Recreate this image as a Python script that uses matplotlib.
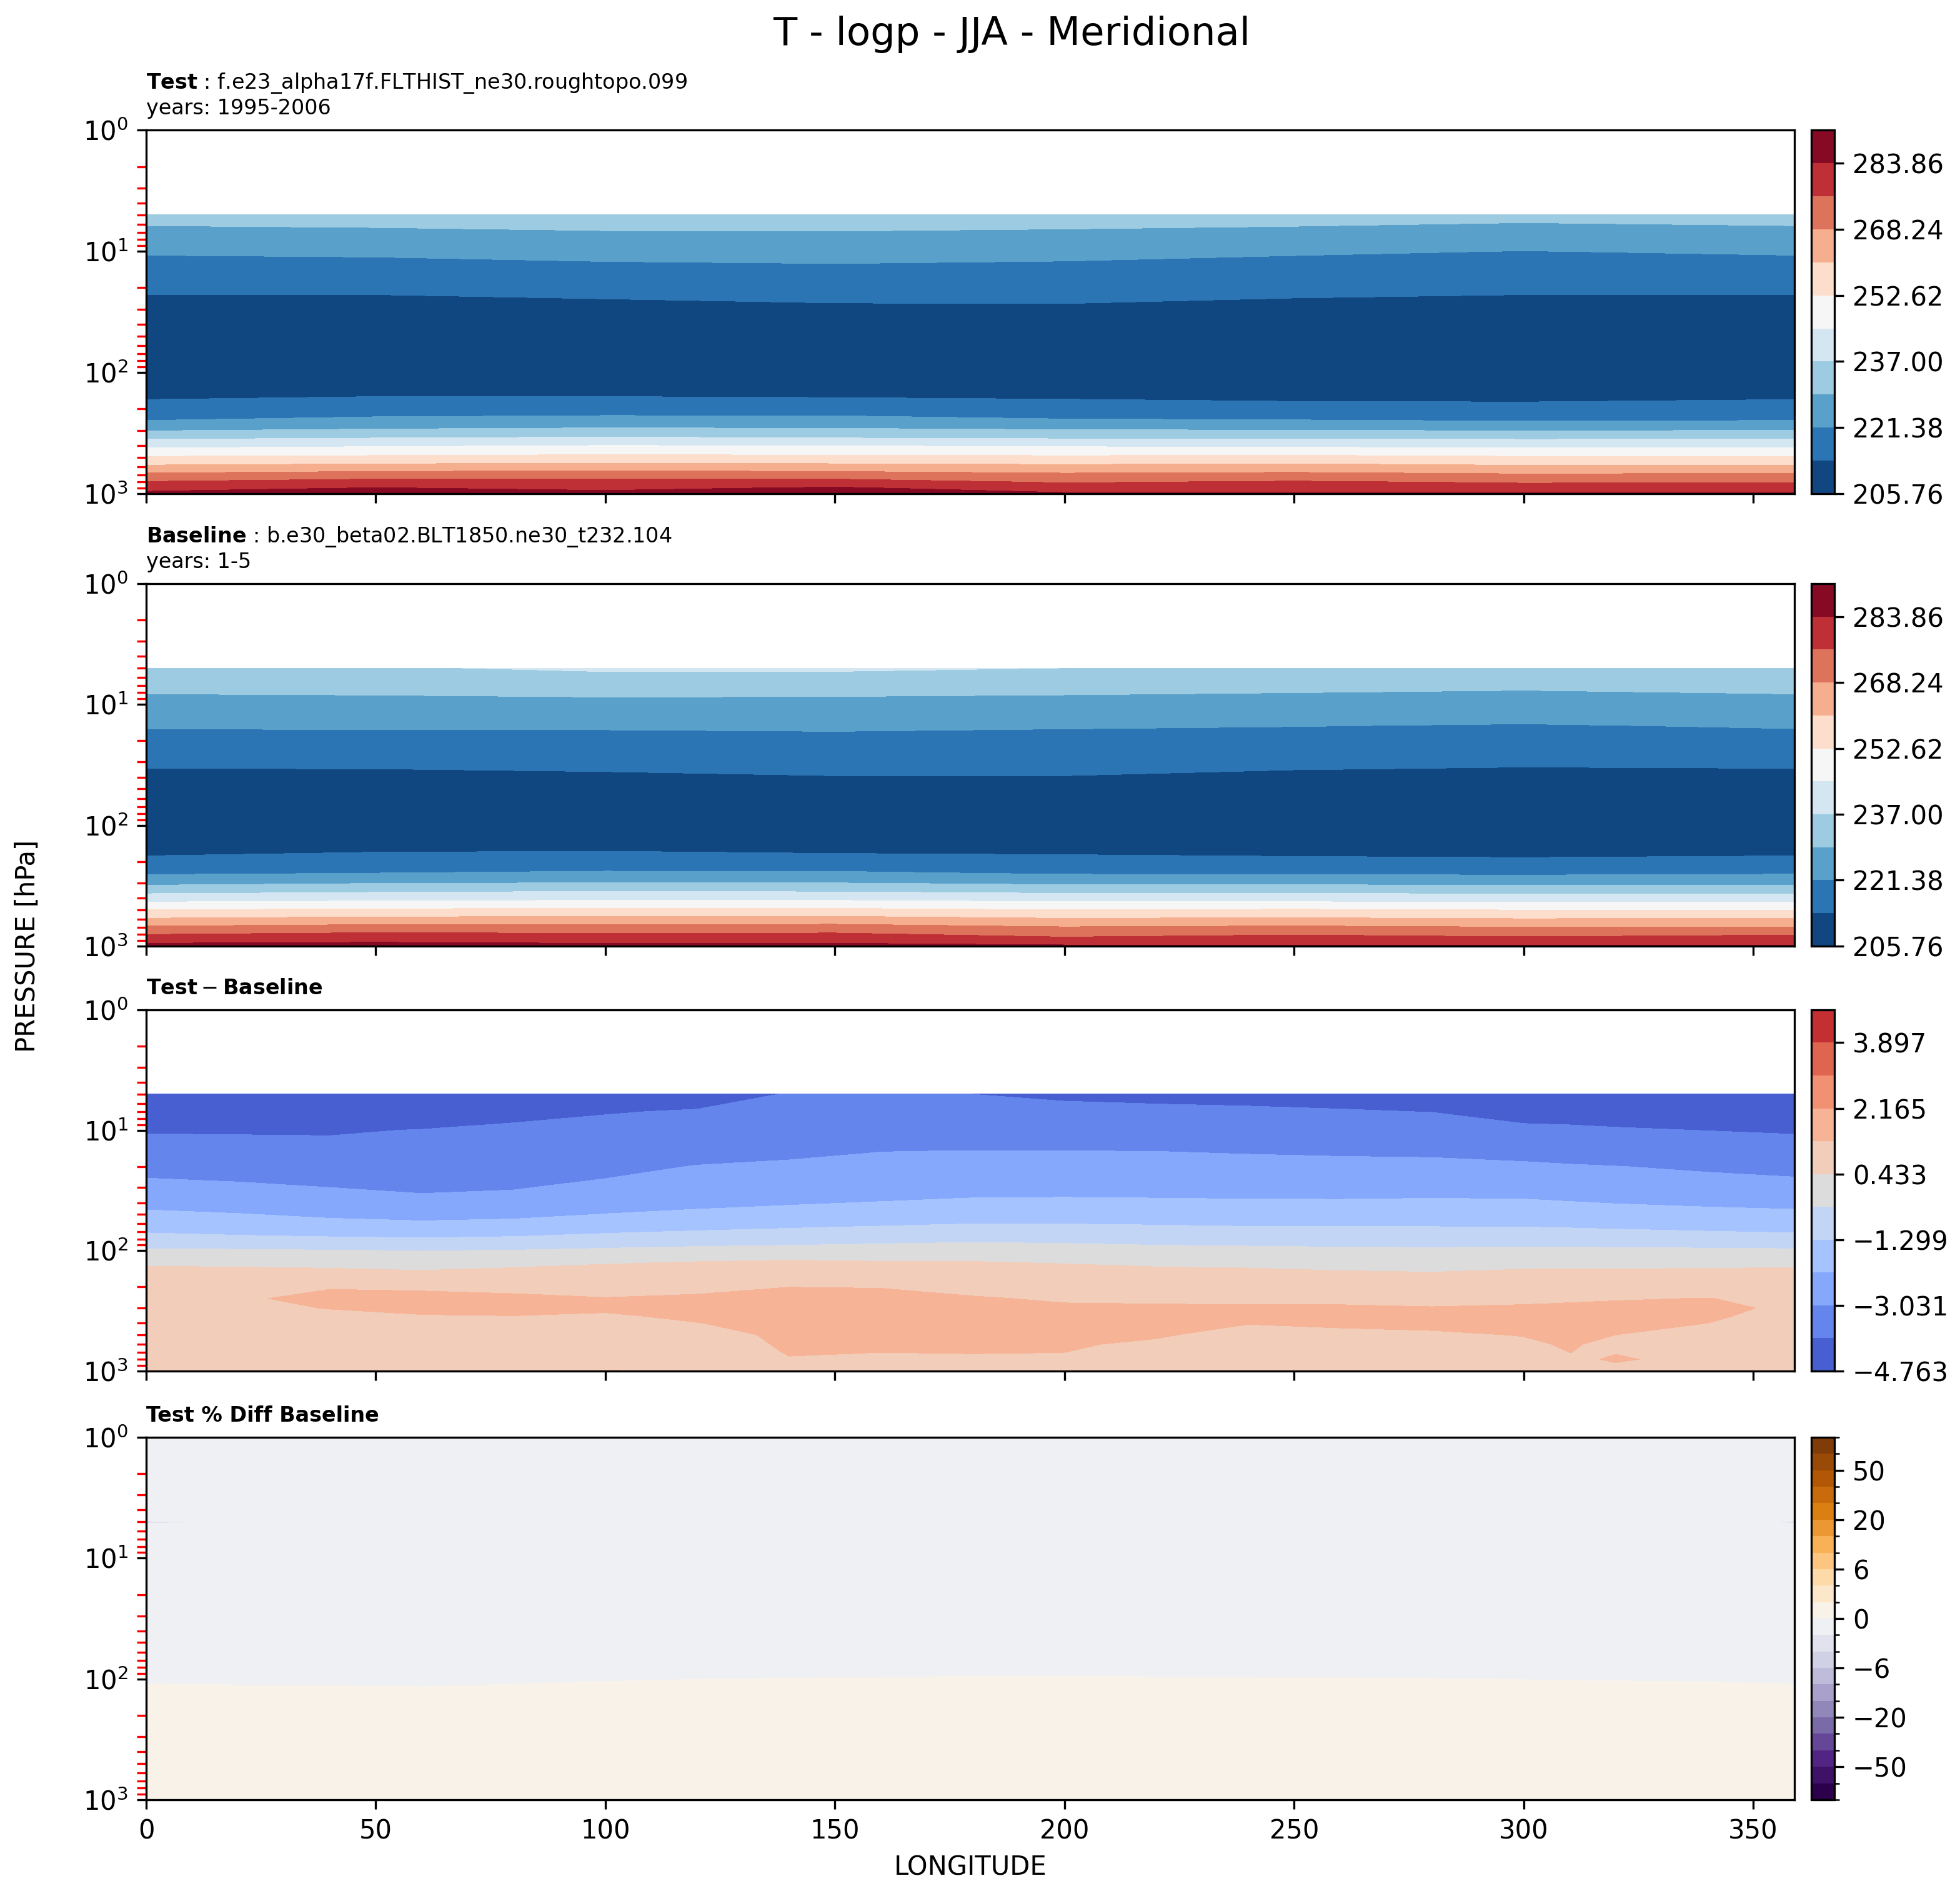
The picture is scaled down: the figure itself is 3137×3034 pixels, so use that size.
import numpy as np
import matplotlib
matplotlib.use("Agg")
import matplotlib.pyplot as plt
from matplotlib.colors import BoundaryNorm

# ---------------- data ----------------
plev = [5, 7, 10, 15, 20, 30, 50, 70, 100, 150, 200, 250, 300, 350, 400,
        500, 600, 700, 800, 900, 1000]

lon_T = [0, 50, 100, 150, 200, 250, 300, 359]

# Test temperature [K], rows = plev, columns = lon_T
T_test = [
    [231.5, 231.55, 232.03, 231.78, 231.64, 231.37, 230.75, 231.5],
    [227.49, 228.10, 228.80, 228.93, 228.48, 227.80, 226.90, 227.49],
    [221.93, 222.2, 222.9, 223.0, 222.6, 221.9, 221.30, 221.93],
    [218.44, 218.69, 219.35, 219.92, 219.62, 218.87, 218.28, 218.44],
    [215.32, 215.41, 216.37, 217.21, 217.10, 216.02, 215.26, 215.32],
    [209.1, 208.85, 210.41, 211.78, 212.06, 210.32, 209.22, 209.1],
    [207.5, 207.3, 207.5, 208.0, 208.2, 207.5, 207.2, 207.5],
    [206.8, 206.6, 206.8, 207.0, 207.0, 206.8, 206.5, 206.8],
    [207.5, 207.3, 207.5, 207.3, 207.3, 207.0, 207.0, 207.5],
    [211.95, 212.76, 212.69, 212.31, 211.97, 211.14, 211.03, 211.95],
    [216.71, 217.83, 218.19, 218.05, 216.97, 216.42, 216.11, 216.71],
    [221.52, 223.40, 224.21, 224.11, 222.28, 221.83, 221.18, 221.53],
    [228.76, 230.20, 231.10, 230.67, 229.75, 229.33, 228.73, 229.2],
    [236.25, 237.39, 238.30, 237.43, 236.72, 236.30, 236.25, 236.29],
    [242.67, 243.90, 244.81, 244.53, 243.82, 243.28, 242.67, 242.67],
    [253.55, 254.26, 255.02, 254.57, 254.16, 254.69, 253.55, 253.55],
    [262.16, 263.41, 264.14, 263.52, 262.67, 263.39, 261.90, 262.04],
    [270.35, 272.23, 273.03, 272.07, 270.01, 270.71, 269.30, 269.81],
    [276.57, 278.96, 278.43, 279.03, 275.36, 276.91, 275.17, 275.64],
    [281.27, 284.35, 282.15, 284.99, 280.19, 280.83, 280.15, 280.32],
    [286.0, 288.0, 286.5, 289.0, 284.95, 284.76, 284.97, 284.92],
]

# Baseline temperature [K], rows = plev, columns = lon_T
T_base = [
    [235.5, 236.5, 237.82, 237.8, 236.98, 235.5, 234.5, 235.5],
    [230.47, 230.64, 233.14, 233.0, 231.5, 231.2, 230.5, 230.5],
    [227.22, 227.48, 226.13, 225.86, 226.33, 225.17, 224.36, 227.2],
    [221.81, 221.95, 222.0, 222.2, 221.8, 221.5, 221.05, 221.8],
    [219.43, 219.59, 219.5, 219.8, 219.6, 219.3, 219.0, 219.4],
    [215.18, 215.32, 215.0, 216.0, 216.0, 215.0, 214.5, 215.2],
    [206.7, 206.8, 210.23, 210.54, 210.54, 209.04, 208.3, 206.7],
    [206.3, 206.3, 207.0, 207.2, 207.2, 206.8, 206.6, 206.3],
    [207.0, 207.0, 207.0, 207.0, 207.0, 207.0, 207.0, 207.0],
    [210.70, 211.95, 212.17, 211.26, 211.16, 210.43, 209.97, 210.59],
    [215.65, 216.71, 217.17, 216.76, 215.98, 215.50, 215.11, 215.73],
    [220.59, 221.52, 222.48, 222.46, 220.80, 220.57, 220.25, 220.87],
    [227.34, 228.76, 229.34, 229.2, 227.74, 227.69, 227.24, 227.44],
    [234.54, 235.86, 236.71, 236.29, 234.87, 234.87, 234.44, 234.44],
    [241.30, 242.21, 242.77, 242.67, 241.71, 241.41, 240.97, 241.24],
    [252.6, 253.64, 254.11, 254.11, 252.6, 253.24, 252.40, 252.41],
    [261.61, 262.91, 263.30, 263.52, 261.49, 262.04, 261.04, 261.46],
    [269.60, 271.34, 271.10, 271.50, 268.79, 269.81, 268.52, 268.78],
    [276.0, 277.71, 277.02, 277.28, 273.80, 275.64, 274.02, 275.57],
    [281.40, 282.33, 281.43, 281.52, 279.30, 280.32, 279.57, 280.32],
    [286.75, 287.5, 286.5, 286.5, 285.22, 284.92, 285.14, 284.92],
]

lon_D = [0, 20, 40, 60, 80, 100, 120, 140, 160, 180, 200, 220, 240, 260,
         280, 300, 310, 320, 340, 359]

# Test - Baseline [K]; one list per longitude (values along plev)
D_cols = [
    [-4.6, -4.3, -3.943, -3.613, -3.282, -2.780, -2.006, -1.342, -0.303, 0.748, 1.0, 1.1, 1.1, 1.05, 1.0, 0.95, 0.9, 0.85, 0.85, 0.8, 0.45],
    [-4.6, -4.3, -3.949, -3.660, -3.372, -2.877, -2.132, -1.466, -0.338, 0.706, 1.05, 1.2, 1.15, 1.05, 1.0, 0.95, 0.9, 0.85, 0.8, 0.75, 0.42],
    [-4.6, -4.3, -3.948, -3.717, -3.487, -3.027, -2.309, -1.562, -0.392, 0.639, 1.25, 1.5, 1.32, 1.15, 1.05, 0.95, 0.9, 0.85, 0.85, 0.8, 0.45],
    [-4.5, -4.2, -3.879, -3.700, -3.520, -3.161, -2.424, -1.629, -0.452, 0.509, 1.2, 1.5, 1.45, 1.26, 1.1, 0.95, 0.9, 0.85, 0.85, 0.85, 0.7],
    [-4.3, -3.97, -3.840, -3.650, -3.460, -3.080, -2.350, -1.545, -0.396, 0.680, 1.15, 1.42, 1.45, 1.29, 1.15, 1.0, 0.95, 0.9, 0.9, 0.9, 0.9],
    [-4.2, -3.92, -3.764, -3.507, -3.249, -2.833, -2.146, -1.372, -0.272, 0.914, 1.1, 1.32, 1.36, 1.25, 1.15, 1.05, 1.0, 1.0, 1.05, 1.1, 1.35],
    [-4.05, -3.868, -3.659, -3.310, -2.999, -2.677, -2.008, -1.237, -0.162, 1.103, 1.22, 1.35, 1.42, 1.37, 1.29, 1.15, 1.1, 1.05, 1.1, 1.15, 1.2],
    [-3.88, -3.735, -3.517, -3.154, -2.921, -2.588, -1.884, -1.118, -0.110, 1.246, 1.295, 1.45, 1.5, 1.45, 1.42, 1.38, 1.35, 1.32, 1.28, 1.2, 1.25],
    [-3.75, -3.608, -3.394, -3.038, -2.857, -2.501, -1.768, -1.019, -0.037, 1.0, 1.28, 1.45, 1.52, 1.5, 1.45, 1.42, 1.38, 1.3, 1.2, 1.2, 1.3],
    [-3.9, -3.715, -3.438, -3.010, -2.806, -2.405, -1.660, -0.929, 0.037, 0.9, 1.1, 1.36, 1.45, 1.45, 1.42, 1.4, 1.35, 1.31, 1.25, 1.2, 1.25],
    [-3.97, -3.773, -3.480, -3.014, -2.804, -2.384, -1.662, -0.938, -0.056, 0.8, 1.05, 1.22, 1.4, 1.45, 1.42, 1.38, 1.33, 1.3, 1.27, 1.2, 1.1],
    [-3.999, -3.805, -3.515, -3.03, -2.820, -2.398, -1.691, -0.997, -0.155, 0.65, 0.95, 1.2, 1.38, 1.45, 1.42, 1.33, 1.25, 1.15, 1.1, 1.05, 1.0],
    [-4.021, -3.830, -3.545, -3.069, -2.838, -2.418, -1.727, -1.062, -0.195, 0.6, 0.9, 1.18, 1.37, 1.4, 1.31, 1.2, 1.1, 1.05, 1.05, 1.1, 1.2],
    [-4.054, -3.865, -3.581, -3.107, -2.851, -2.422, -1.732, -1.082, -0.251, 0.48, 0.85, 1.18, 1.37, 1.4, 1.35, 1.22, 1.1, 1.05, 1.05, 1.05, 1.1],
    [-4.099, -3.907, -3.618, -3.137, -2.852, -2.394, -1.717, -1.088, -0.276, 0.42, 0.8, 1.12, 1.33, 1.38, 1.36, 1.26, 1.15, 1.1, 1.05, 1.05, 1.1],
    [-4.25, -4.08, -3.775, -3.265, -2.900, -2.416, -1.728, -1.103, -0.240, 0.55, 0.9, 1.2, 1.36, 1.4, 1.38, 1.31, 1.25, 1.15, 1.1, 1.05, 1.05],
    [-4.2, -4.05, -3.823, -3.357, -2.961, -2.493, -1.770, -1.133, -0.241, 0.56, 0.95, 1.24, 1.38, 1.42, 1.4, 1.36, 1.33, 1.30, 1.2, 1.1, 1.05],
    [-4.2, -4.08, -3.855, -3.430, -3.018, -2.569, -1.822, -1.178, -0.253, 0.57, 1.0, 1.27, 1.4, 1.42, 1.38, 1.30, 1.22, 1.28, 1.35, 1.25, 1.1],
    [-4.35, -4.15, -3.905, -3.522, -3.139, -2.673, -1.914, -1.264, -0.278, 0.6, 1.05, 1.31, 1.42, 1.38, 1.30, 1.18, 1.1, 1.05, 1.15, 1.2, 1.05],
    [-4.6, -4.3, -3.953, -3.604, -3.255, -2.754, -1.987, -1.341, -0.311, 0.668, 1.0, 1.18, 1.2, 1.1, 1.05, 0.95, 0.9, 0.85, 0.85, 0.8, 0.5],
]

lon_P = [0, 20, 60, 100, 140, 180, 220, 260, 300, 340, 359]
plev_P = [1, 5, 7, 20, 50, 100, 150, 300, 1000]
# Test % Diff Baseline [%], rows = plev_P, columns = lon_P
PCT = [
    [-0.5, -0.5, -0.5, -0.5, -0.5, -0.5, -0.5, -0.5, -0.5, -0.5, -0.5],
    [-2.03, -1.98, -1.9, -1.8, -1.65, -1.7, -1.72, -1.75, -1.8, -1.9, -2.03],
    [-1.7, -1.7, -1.7, -1.65, -1.55, -1.6, -1.6, -1.62, -1.7, -1.75, -1.7],
    [-1.4, -1.45, -1.5, -1.4, -1.25, -1.2, -1.2, -1.2, -1.25, -1.35, -1.4],
    [-0.9, -0.95, -1.05, -0.95, -0.8, -0.7, -0.72, -0.75, -0.75, -0.85, -0.9],
    [-0.075, -0.095, -0.141, -0.033, 0.02, 0.076, 0.065, 0.035, -0.01, -0.041, -0.075],
    [0.3, 0.3, 0.3, 0.3, 0.3, 0.3, 0.3, 0.3, 0.3, 0.3, 0.3],
    [0.5, 0.5, 0.5, 0.5, 0.5, 0.5, 0.5, 0.5, 0.5, 0.5, 0.5],
    [0.35, 0.35, 0.35, 0.35, 0.35, 0.35, 0.35, 0.35, 0.35, 0.35, 0.35],
]

levels_T = [205.76, 213.57, 221.38, 229.19, 237.00, 244.81, 252.62, 260.43,
            268.24, 276.05, 283.86, 291.67]
levels_D = [-4.763, -3.897, -3.031, -2.165, -1.299, -0.433, 0.433, 1.299,
            2.165, 3.031, 3.897, 4.763]
levels_P = [-100, -75, -50, -40, -30, -20, -15, -10, -6, -4, -2, 0, 2, 4, 6,
            10, 15, 20, 30, 40, 50, 75, 100]
ticks_P = [-50, -20, -6, 0, 6, 20, 50]

title = "T - logp - JJA - Meridional"
titles = [
    "$\\mathbf{Test}$ : f.e23_alpha17f.FLTHIST_ne30.roughtopo.099\nyears: 1995-2006",
    "$\\mathbf{Baseline}$ : b.e30_beta02.BLT1850.ne30_t232.104\nyears: 1-5",
    "$\\mathbf{Test} - \\mathbf{Baseline}$",
    "Test % Diff Baseline",
]

# ---------------- figure ----------------
W, H = 3137, 3034
fig = plt.figure(figsize=(W / 300, H / 300), dpi=300)

ax_left, ax_w = 0.0746, 0.841
cb_left, cb_w = 0.9240, 0.0118
rows = [(0.7396, 0.1918), (0.5010, 0.1912), (0.2769, 0.1905), (0.0508, 0.1911)]

fields = [
    (lon_T, plev, np.array(T_test), levels_T, "RdBu_r", None),
    (lon_T, plev, np.array(T_base), levels_T, "RdBu_r", None),
    (lon_D, plev, np.array(D_cols).T, levels_D, "coolwarm", None),
    (lon_P, plev_P, np.array(PCT), levels_P, "PuOr_r",
     BoundaryNorm(levels_P, 256)),
]

axes = []
for i, ((lons, levs, Z, clev, cmap, norm), (y0, h)) in enumerate(zip(fields, rows)):
    ax = fig.add_axes([ax_left, y0, ax_w, h])
    cax = fig.add_axes([cb_left, y0, cb_w, h])
    kw = dict(levels=clev, cmap=cmap)
    if norm is not None:
        kw["norm"] = norm
    cf = ax.contourf(lons, levs, Z, **kw)
    ax.set_yscale("log")
    ax.set_ylim(1000, 1)
    ax.set_xlim(0, 359)
    ax.set_xticks(range(0, 351, 50))
    ax.tick_params(axis="y", which="minor", color="red", length=3.5, width=0.8)
    if i < 3:
        ax.tick_params(axis="x", labelbottom=False)
    if i == 3:
        ax.set_title(titles[i], loc="left", fontsize=8, fontweight="bold")
    else:
        ax.set_title(titles[i], loc="left", fontsize=8)

    cb = fig.colorbar(cf, cax=cax)
    if i < 2:
        tk = clev[::2][:6]
        cb.set_ticks(tk)
        cb.set_ticklabels([f"{v:.2f}" for v in tk])
    elif i == 2:
        tk = clev[::2][:6]
        cb.set_ticks(tk)
        cb.set_ticklabels([f"{v:.3f}".replace("-", "\u2212") for v in tk])
    else:
        cb.set_ticks(ticks_P)
        cb.set_ticklabels([f"{v:d}".replace("-", "\u2212") for v in ticks_P])
        cb.set_ticks([v for v in levels_P if v not in ticks_P], minor=True)
    axes.append(ax)

axes[3].set_xlabel("LONGITUDE", fontsize=10)
fig.text(0.014, 0.501, "PRESSURE [hPa]", rotation=90, ha="center",
         va="center", fontsize=10)
fig.text(0.516, 0.982, title, ha="center", va="center", fontsize=15)

fig.savefig("out.png", dpi=300)
